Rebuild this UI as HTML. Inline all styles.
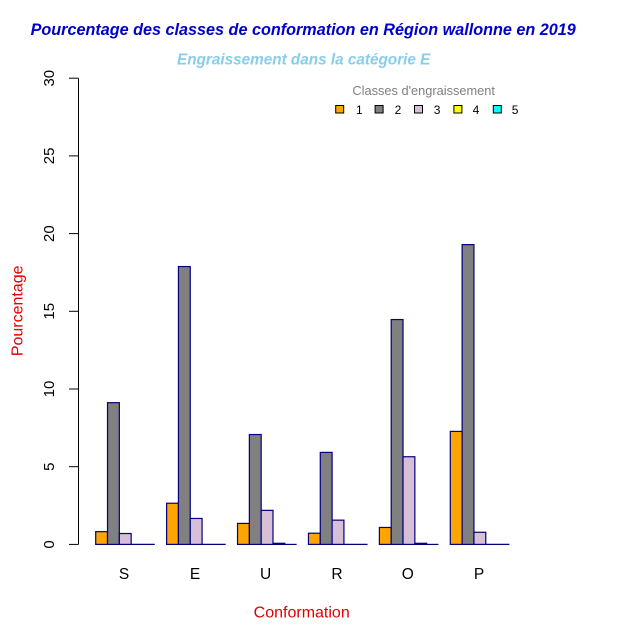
<!DOCTYPE html>
<html>
<head>
<meta charset="utf-8">
<style>
html,body{margin:0;padding:0;background:#fff;}
svg{display:block;}
text{font-family:"Liberation Sans",Arial,sans-serif;}
</style>
</head>
<body>
<svg width="643" height="642" viewBox="0 0 643 642" xmlns="http://www.w3.org/2000/svg">
<rect x="0" y="0" width="643" height="642" fill="#ffffff"/>
<!-- Titles -->
<text x="303.2" y="35" font-size="16.2" font-weight="bold" font-style="italic" fill="#0000CD" text-anchor="middle">Pourcentage des classes de conformation en Région wallonne en 2019</text>
<text x="303.7" y="64.5" font-size="15.3" font-weight="bold" font-style="italic" fill="#87CEEB" text-anchor="middle">Engraissement dans la catégorie E</text>

<!-- Y axis -->
<g stroke="#000" stroke-width="1" fill="none">
<line x1="78.5" y1="78.2" x2="78.5" y2="544.4"/>
<line x1="69" y1="78.2" x2="78.5" y2="78.2"/>
<line x1="69" y1="155.9" x2="78.5" y2="155.9"/>
<line x1="69" y1="233.6" x2="78.5" y2="233.6"/>
<line x1="69" y1="311.3" x2="78.5" y2="311.3"/>
<line x1="69" y1="389.0" x2="78.5" y2="389.0"/>
<line x1="69" y1="466.7" x2="78.5" y2="466.7"/>
<line x1="69" y1="544.4" x2="78.5" y2="544.4"/>
</g>
<g font-size="15" fill="#000" text-anchor="middle">
<text transform="translate(54,78.2) rotate(-90)">30</text>
<text transform="translate(54,155.9) rotate(-90)">25</text>
<text transform="translate(54,233.6) rotate(-90)">20</text>
<text transform="translate(54,311.3) rotate(-90)">15</text>
<text transform="translate(54,389.0) rotate(-90)">10</text>
<text transform="translate(54,466.7) rotate(-90)">5</text>
<text transform="translate(54,544.4) rotate(-90)">0</text>
</g>
<text transform="translate(22.5,310.8) rotate(-90)" font-size="16" fill="#E00000" text-anchor="middle">Pourcentage</text>

<!-- Bars -->
<g stroke="#000080" stroke-width="1.2">
<!-- S: left 95.7 -->
<rect x="95.7" y="531.66" width="11.82" height="12.74" fill="#FFA500"/>
<rect x="107.52" y="402.68" width="11.82" height="141.72" fill="#808080"/>
<rect x="119.34" y="533.52" width="11.82" height="10.88" fill="#D8BFD8"/>
<line x1="131.16" y1="544.4" x2="154.8" y2="544.4"/>
<!-- E: left 166.62 -->
<rect x="166.62" y="503.22" width="11.82" height="41.18" fill="#FFA500"/>
<rect x="178.44" y="266.55" width="11.82" height="277.85" fill="#808080"/>
<rect x="190.26" y="518.45" width="11.82" height="25.95" fill="#D8BFD8"/>
<line x1="202.08" y1="544.4" x2="225.72" y2="544.4"/>
<!-- U: left 237.54 -->
<rect x="237.54" y="523.42" width="11.82" height="20.98" fill="#FFA500"/>
<rect x="249.36" y="434.53" width="11.82" height="109.87" fill="#808080"/>
<rect x="261.18" y="510.37" width="11.82" height="34.03" fill="#D8BFD8"/>
<rect x="273.00" y="543.31" width="11.82" height="1.09" fill="#FFFF00"/>
<line x1="284.82" y1="544.4" x2="296.64" y2="544.4"/>
<!-- R: left 308.46 -->
<rect x="308.46" y="533.21" width="11.82" height="11.19" fill="#FFA500"/>
<rect x="320.28" y="452.40" width="11.82" height="92.00" fill="#808080"/>
<rect x="332.10" y="520.16" width="11.82" height="24.24" fill="#D8BFD8"/>
<line x1="343.92" y1="544.4" x2="367.56" y2="544.4"/>
<!-- O: left 379.38 -->
<rect x="379.38" y="527.46" width="11.82" height="16.94" fill="#FFA500"/>
<rect x="391.20" y="319.54" width="11.82" height="224.86" fill="#808080"/>
<rect x="403.02" y="456.75" width="11.82" height="87.65" fill="#D8BFD8"/>
<rect x="414.84" y="543.31" width="11.82" height="1.09" fill="#FFFF00"/>
<line x1="426.66" y1="544.4" x2="438.48" y2="544.4"/>
<!-- P: left 450.3 -->
<rect x="450.30" y="431.42" width="11.82" height="112.98" fill="#FFA500"/>
<rect x="462.12" y="244.63" width="11.82" height="299.77" fill="#808080"/>
<rect x="473.94" y="532.28" width="11.82" height="12.12" fill="#D8BFD8"/>
<line x1="485.76" y1="544.4" x2="509.40" y2="544.4"/>
</g>

<!-- X names -->
<g font-size="15.5" fill="#000" text-anchor="middle">
<text x="124" y="579">S</text>
<text x="195" y="579">E</text>
<text x="265.6" y="579">U</text>
<text x="337" y="579">R</text>
<text x="407.8" y="579">O</text>
<text x="479" y="579">P</text>
</g>
<text x="301.7" y="617.5" font-size="16" fill="#E00000" text-anchor="middle">Conformation</text>

<!-- Legend -->
<text x="423.7" y="95" font-size="12.8" fill="#808080" text-anchor="middle">Classes d'engraissement</text>
<g stroke="#000" stroke-width="1">
<rect x="335.7" y="105.5" width="8" height="7.5" fill="#FFA500"/>
<rect x="375.1" y="105.5" width="8" height="7.5" fill="#808080"/>
<rect x="414.5" y="105.5" width="8" height="7.5" fill="#D8BFD8"/>
<rect x="453.9" y="105.5" width="8" height="7.5" fill="#FFFF00"/>
<rect x="493.3" y="105.5" width="8" height="7.5" fill="#00FFFF"/>
</g>
<g font-size="12" fill="#000">
<text x="356" y="114">1</text>
<text x="394.6" y="114">2</text>
<text x="433.8" y="114">3</text>
<text x="472.6" y="114">4</text>
<text x="511.7" y="114">5</text>
</g>
</svg>
</body>
</html>
